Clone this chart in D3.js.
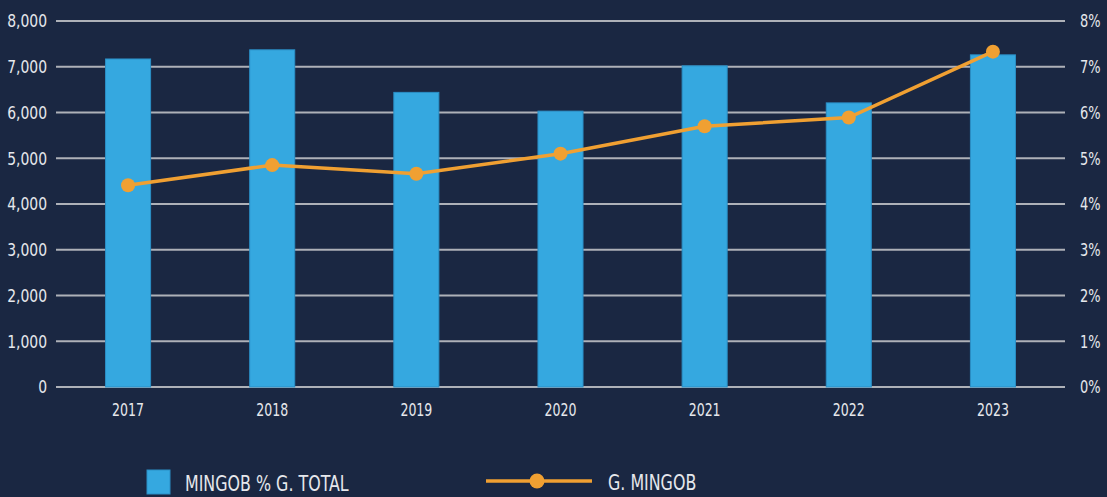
<!DOCTYPE html>
<html><head><meta charset="utf-8">
<script src="https://cdn.jsdelivr.net/npm/d3@7"></script>
<style>
html,body{margin:0;padding:0;background:#1a2742;}
svg{display:block;}
text{font-family:"DejaVu Sans Condensed","DejaVu Sans",sans-serif;font-stretch:condensed;fill:#e6e8ec;}
</style></head>
<body>
<svg id="chart" width="1107" height="497"></svg>
<script>
const years = ["2017","2018","2019","2020","2021","2022","2023"];
const barValues = [7170, 7370, 6440, 6030, 7020, 6210, 7260];
const lineValues = [4.41, 4.85, 4.66, 5.10, 5.70, 5.89, 7.33];
const leftTicks = [0,1000,2000,3000,4000,5000,6000,7000,8000];
const rightTicks = [0,1,2,3,4,5,6,7,8];
const barLabel = "MINGOB % G. TOTAL";
const lineLabel = "G. MINGOB";

const svg = d3.select("#chart");
const W = 1107, H = 497;
const m = {left:56, right:1065, top:21, bottom:387};
svg.append("rect").attr("width",W).attr("height",H).attr("fill","#1a2742");

const x = d3.scaleBand().domain(years).range([m.left, m.right]).padding(0);
const yL = d3.scaleLinear().domain([0,8000]).range([m.bottom, m.top]);
const yR = d3.scaleLinear().domain([0,8]).range([m.bottom, m.top]);
const barW = x.step()*0.3125;

function squeeze(sel, f){
  sel.each(function(){
    const len = this.getComputedTextLength();
    d3.select(this).attr("textLength", len*f).attr("lengthAdjust","spacingAndGlyphs");
  });
}

// gridlines
svg.append("g").selectAll("line").data(leftTicks).join("line")
  .attr("x1", m.left).attr("x2", m.right)
  .attr("y1", d=>yL(d)).attr("y2", d=>yL(d))
  .attr("stroke","#aeb1b8").attr("stroke-width",2);

// left axis labels
const axL = d3.axisLeft(yL).tickValues(leftTicks).tickFormat(d3.format(",")).tickSize(0).tickPadding(9);
const gL = svg.append("g").attr("transform",`translate(${m.left},0)`).call(axL);
gL.select(".domain").remove();
gL.selectAll("text").attr("font-size",18).attr("fill","#e6e8ec").attr("font-family",null).call(squeeze,0.86);

const axR = d3.axisRight(yR).tickValues(rightTicks).tickFormat(d=>d+"%").tickSize(0).tickPadding(15);
const gR = svg.append("g").attr("transform",`translate(${m.right},0)`).call(axR);
gR.select(".domain").remove();
gR.selectAll("text").attr("font-size",18).attr("fill","#e6e8ec").attr("font-family",null).call(squeeze,0.8);

// bars
svg.append("g").selectAll("rect").data(years).join("rect")
  .attr("x", (d)=>x(d)+x.bandwidth()/2-barW/2)
  .attr("width", barW)
  .attr("y", (d,i)=>yL(barValues[i]))
  .attr("height", (d,i)=>yL(0)-yL(barValues[i]))
  .attr("fill","#35a8e0").attr("stroke","#2b8fc6").attr("stroke-width",1);

// x axis labels
const axB = d3.axisBottom(x).tickSize(0).tickPadding(17);
const gB = svg.append("g").attr("transform",`translate(0,${m.bottom})`).call(axB);
gB.select(".domain").remove();
gB.selectAll("text").attr("font-size",17).attr("fill","#e6e8ec").attr("font-family",null).call(squeeze,0.82);

// line
const pts = years.map((d,i)=>[x(d)+x.bandwidth()/2, yR(lineValues[i])]);
svg.append("path").attr("d", d3.line()(pts)).attr("fill","none")
  .attr("stroke","#f0a032").attr("stroke-width",3.5);
svg.append("g").selectAll("circle").data(pts).join("circle")
  .attr("cx",d=>d[0]).attr("cy",d=>d[1]).attr("r",7).attr("fill","#f0a032");

// legend
const lg = svg.append("g");
lg.append("rect").attr("x",147).attr("y",470).attr("width",23).attr("height",24)
  .attr("fill","#35a8e0").attr("stroke","#2b8fc6");
lg.append("text").attr("x",185).attr("y",491).attr("font-size",21).text(barLabel).call(squeeze,0.84);
lg.append("line").attr("x1",486).attr("x2",592).attr("y1",481).attr("y2",481)
  .attr("stroke","#f0a032").attr("stroke-width",3.5);
lg.append("circle").attr("cx",537).attr("cy",481).attr("r",7.5).attr("fill","#f0a032");
lg.append("text").attr("x",608).attr("y",490).attr("font-size",21).text(lineLabel).call(squeeze,0.84);
</script>
</body></html>
